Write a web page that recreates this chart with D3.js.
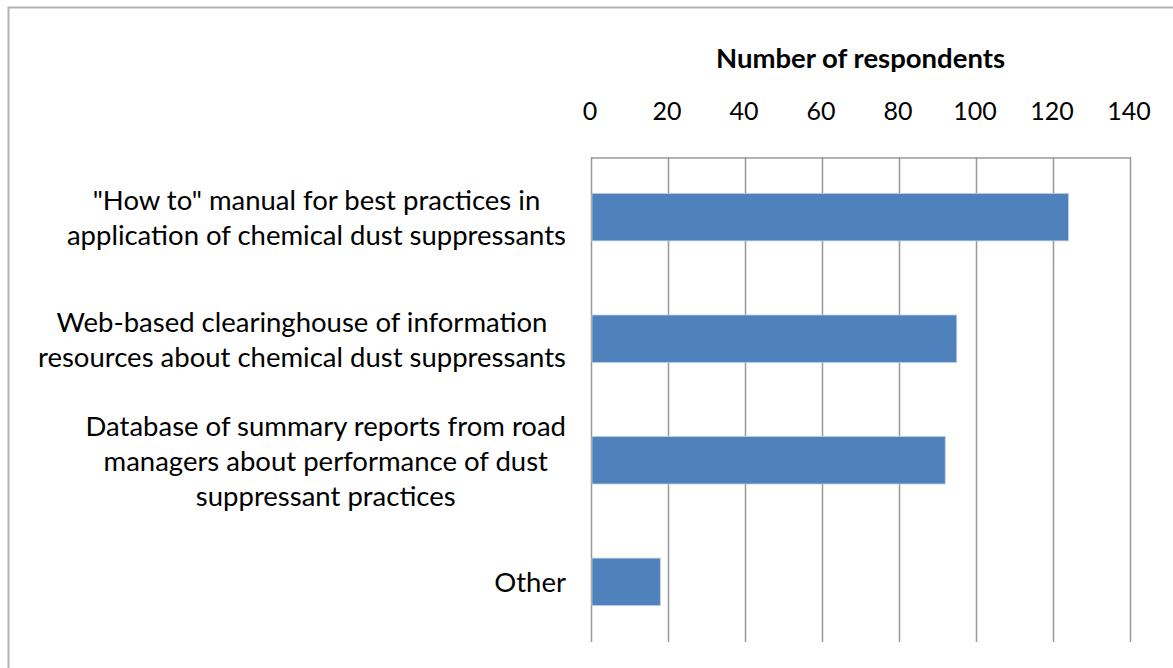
<!DOCTYPE html>
<html>
<head>
<meta charset="utf-8">
<script src="https://cdn.jsdelivr.net/npm/d3@7"></script>
<style>
  body { margin: 0; background: #fff; }
  svg { display: block; }
  text { font-family: Lato, "Open Sans", sans-serif; fill: #000; }
</style>
</head>
<body>
<svg id="chart" width="1173" height="668"></svg>
<script>
// data
const categories = [
    ["\"How to\" manual for best practices in", "application of chemical dust suppressants"],
    ["Web-based clearinghouse of information", "resources about chemical dust suppressants"],
    ["Database of summary reports from road", "managers about performance of dust", "suppressant practices"],
    ["Other"]
];
const respondents = [124, 95, 92, 18];
const tickValues = [0, 20, 40, 60, 80, 100, 120, 140];
const axisTitle = "Number of respondents";

const svg = d3.select("#chart"),
    width = +svg.attr("width"),
    height = +svg.attr("height");

const margin = {top: 157, right: 43, bottom: 26, left: 591};
const gridColor = "#999";
const barColor = "#4f81bd";
const labelSize = 27.5;

// outer chart frame (only top and left are inside the picture)
svg.append("path")
    .attr("d", `M8.5,${height}V7.5H${width}`)
    .attr("fill", "none")
    .attr("stroke", "#b3b3b3")
    .attr("stroke-width", 2);

const x = d3.scaleLinear()
    .domain([0, 140])
    .range([margin.left, width - margin.right]);

const y = d3.scaleBand()
    .domain(d3.range(categories.length))
    .range([margin.top, height - margin.bottom])
    .paddingInner(0.61)
    .paddingOuter(0.3);

// vertical gridlines
svg.append("g")
    .selectAll("line")
    .data(tickValues)
    .enter().append("line")
    .attr("x1", d => x(d) + 0.5)
    .attr("x2", d => x(d) + 0.5)
    .attr("y1", margin.top)
    .attr("y2", height - margin.bottom)
    .attr("stroke", gridColor)
    .attr("stroke-width", 1.5);

// top axis
const xAxis = d3.axisTop(x)
    .tickValues(tickValues)
    .tickSize(0)
    .tickPadding(0);

const axisG = svg.append("g")
    .attr("transform", `translate(0.5,${margin.top + 0.5})`)
    .call(xAxis);

axisG.select(".domain")
    .attr("stroke", gridColor)
    .attr("stroke-width", 1.5);

axisG.selectAll("text")
    .attr("y", 0)
    .attr("transform", "translate(-2,-38)")
    .attr("font-size", "25px")
    .attr("font-family", "Lato, sans-serif")
    .attr("fill", "#000");

svg.append("text")
    .attr("x", (x(0) + x(140)) / 2)
    .attr("y", 68)
    .attr("text-anchor", "middle")
    .attr("font-size", "27.5px")
    .attr("font-weight", "bold")
    .text(axisTitle);

// bars
svg.append("g")
    .selectAll("rect")
    .data(respondents)
    .enter().append("rect")
    .attr("x", x(0) + 1)
    .attr("y", (d, i) => y(i))
    .attr("width", d => x(d) - x(0) - 1)
    .attr("height", y.bandwidth())
    .attr("fill", barColor)
    .attr("stroke", "#b9cde5")
    .attr("stroke-width", 0.8);

// category labels: lines centred within a block whose right edge sits by the axis
const labelRight = 566;
const lineGap = 35;

const labels = svg.append("g");
categories.forEach((lines, i) => {
    const g = labels.append("g");
    const texts = g.selectAll("text")
        .data(lines)
        .enter().append("text")
        .attr("font-size", labelSize + "px")
        .attr("text-anchor", "middle")
        .attr("dominant-baseline", "central")
        .attr("y", (d, j) => y(i) + y.bandwidth() / 2 + (j - (lines.length - 1) / 2) * lineGap)
        .text(d => d);
    let maxW = 0;
    texts.each(function () { maxW = Math.max(maxW, this.getComputedTextLength()); });
    texts.attr("x", labelRight - maxW / 2);
});
</script>
</body>
</html>
